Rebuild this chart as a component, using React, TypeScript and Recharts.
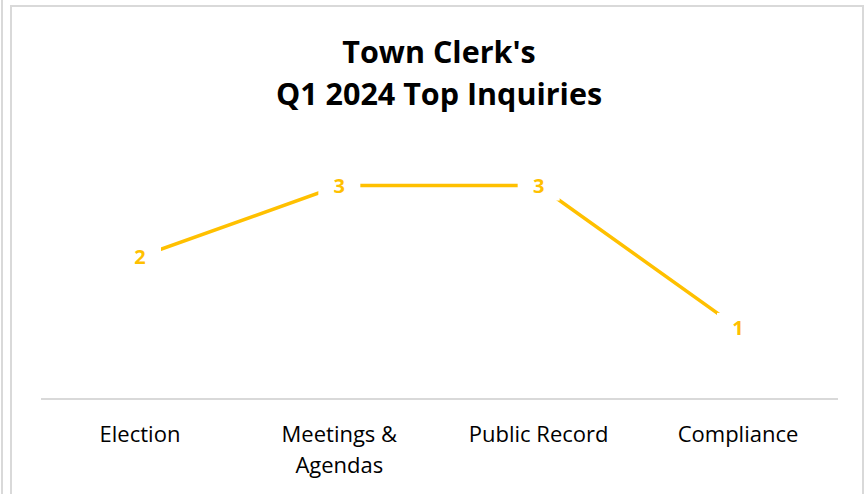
import { LineChart, Line, XAxis, YAxis, LabelList, Text } from "recharts";

const categories = ["Election", "Meetings & Agendas", "Public Record", "Compliance"];
const inquiries = [2, 3, 3, 1];
const titleLines = ["Town Clerk's", "Q1 2024 Top Inquiries"];

const data = categories.map((name, i) => ({ name, value: inquiries[i] }));

const GOLD = "#FFC000";
const FONT = "'Open Sans', sans-serif";

function CategoryTick(props: any) {
  const { x, y, payload } = props;
  return (
    <Text
      x={x}
      y={y + 27}
      width={150}
      textAnchor="middle"
      verticalAnchor="start"
      lineHeight={31}
      fill="#000"
      style={{ fontFamily: FONT, fontSize: 22 }}
    >
      {payload.value}
    </Text>
  );
}

function PointLabel(props: any) {
  const { x, y, value } = props;
  return (
    <g>
      <rect x={x - 21} y={y - 15} width={42} height={30} fill="#fff" />
      <text
        x={x}
        y={y + 7}
        textAnchor="middle"
        fill={GOLD}
        style={{ fontFamily: FONT, fontSize: 20, fontWeight: 700 }}
      >
        {value}
      </text>
    </g>
  );
}

export default function App() {
  return (
    <div
      style={{
        position: "absolute",
        left: 0,
        top: 0,
        width: 867,
        height: 494,
        overflow: "hidden",
        background: "#fff",
      }}
    >
      <div
        style={{
          position: "absolute",
          left: 1,
          top: 0,
          width: 2,
          height: 494,
          background: "#d9d9d9",
        }}
      />
      <div
        style={{
          position: "absolute",
          left: 10,
          top: 5,
          width: 854,
          height: 520,
          border: "2px solid #d9d9d9",
          boxSizing: "border-box",
        }}
      />
      <svg
        width={867}
        height={130}
        style={{ position: "absolute", left: 0, top: 0 }}
      >
        {titleLines.map((t, i) => (
          <text
            key={t}
            x={439}
            y={63 + i * 42}
            textAnchor="middle"
            fill="#000"
            style={{ fontFamily: FONT, fontSize: 30.5, fontWeight: 700 }}
          >
            {t}
          </text>
        ))}
      </svg>
      <div style={{ position: "absolute", left: 0, top: 0 }}>
        <LineChart
          width={867}
          height={494}
          data={data}
          margin={{ top: 150, right: 29, bottom: 5, left: 41 }}
        >
          <XAxis
            dataKey="name"
            height={90}
            tickLine={false}
            tickSize={0}
            tickMargin={0}
            padding={{ left: 99, right: 100 }}
            axisLine={{ stroke: "#d9d9d9", strokeWidth: 2 }}
            tick={<CategoryTick />}
            interval={0}
          />
          <YAxis hide width={0} domain={[0, 3.5]} />
          <Line
            type="linear"
            dataKey="value"
            stroke={GOLD}
            strokeWidth={3.5}
            dot={false}
            isAnimationActive={false}
          >
            <LabelList dataKey="value" content={<PointLabel />} />
          </Line>
        </LineChart>
      </div>
    </div>
  );
}
